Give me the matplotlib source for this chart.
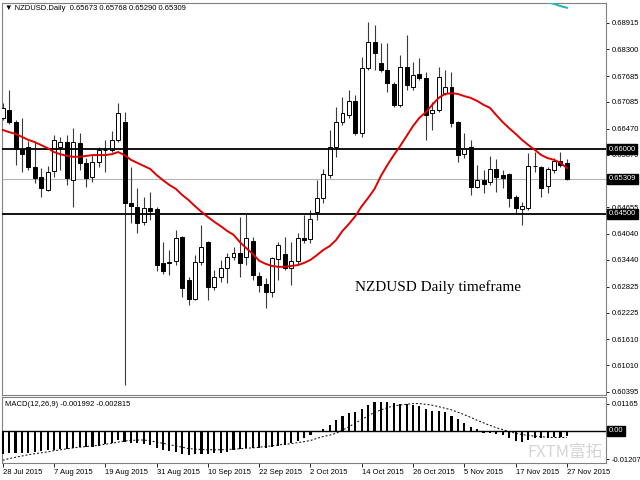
import matplotlib
matplotlib.use('Agg')
import matplotlib.pyplot as plt
import matplotlib.transforms as mtransforms
import numpy as np

plt.rcParams['font.family'] = ['Liberation Sans', 'DejaVu Sans']

# daily NZDUSD bars, 28 Jul 2015 .. 27 Nov 2015
opens = [
    0.6672, 0.6690, 0.6662, 0.6600, 0.6605, 0.6558, 0.6535, 0.6505, 0.6549, 0.6605,
    0.6616, 0.6528, 0.6614, 0.6568, 0.6535, 0.6570, 0.6598, 0.6598, 0.6621, 0.6662,
    0.6475, 0.6466, 0.6432, 0.6464, 0.6462, 0.6337, 0.6339, 0.6342, 0.6397, 0.6298,
    0.6254, 0.6339, 0.6385, 0.6281, 0.6305, 0.6325, 0.6351, 0.6360, 0.6351, 0.6388,
    0.6307, 0.6288, 0.6270, 0.6346, 0.6358, 0.6325, 0.6342, 0.6395, 0.6392, 0.6455,
    0.6487, 0.6540, 0.6605, 0.6662, 0.6678, 0.6711, 0.6637, 0.6787, 0.6847, 0.6798,
    0.6782, 0.6750, 0.6702, 0.6789, 0.6743, 0.6773, 0.6764, 0.6683, 0.6690, 0.6729,
    0.6743, 0.6662, 0.6588, 0.6605, 0.6512, 0.6528, 0.6524, 0.6554, 0.6540, 0.6542,
    0.6489, 0.6462, 0.6464, 0.6561, 0.6558, 0.6515, 0.6552, 0.6572, 0.65673]
highs = [
    0.6706, 0.6736, 0.6667, 0.6672, 0.6618, 0.6616, 0.6556, 0.6561, 0.6632, 0.6628,
    0.6632, 0.6648, 0.6637, 0.6579, 0.6586, 0.6605, 0.6621, 0.6642, 0.6706, 0.6685,
    0.6558, 0.6510, 0.6489, 0.6501, 0.6466, 0.6385, 0.6367, 0.6413, 0.6399, 0.6305,
    0.6355, 0.6425, 0.6388, 0.6321, 0.6344, 0.6360, 0.6374, 0.6443, 0.6452, 0.6397,
    0.6316, 0.6302, 0.6351, 0.6385, 0.6397, 0.6385, 0.6406, 0.6448, 0.6459, 0.6528,
    0.6554, 0.6644, 0.6697, 0.6720, 0.6736, 0.6725, 0.6812, 0.6893, 0.6886, 0.6845,
    0.6845, 0.6755, 0.6817, 0.6863, 0.6801, 0.6810, 0.6778, 0.6708, 0.6789, 0.6782,
    0.6778, 0.6665, 0.6637, 0.6621, 0.6563, 0.6552, 0.6584, 0.6577, 0.6552, 0.6545,
    0.6494, 0.6478, 0.6591, 0.6593, 0.6561, 0.6558, 0.6579, 0.6593, 0.65768]
lows = [
    0.6667, 0.6658, 0.6563, 0.6547, 0.6552, 0.6522, 0.6489, 0.6503, 0.6535, 0.6552,
    0.6517, 0.6466, 0.6552, 0.6512, 0.6524, 0.6558, 0.6547, 0.6593, 0.6616, 0.6055,
    0.6429, 0.6406, 0.6425, 0.6436, 0.6318, 0.6311, 0.6309, 0.6332, 0.6258, 0.6240,
    0.6251, 0.6332, 0.6251, 0.6275, 0.6293, 0.6291, 0.6344, 0.6305, 0.6332, 0.6298,
    0.6270, 0.6233, 0.6258, 0.6298, 0.6321, 0.6286, 0.6332, 0.6383, 0.6383, 0.6436,
    0.6475, 0.6533, 0.6582, 0.6655, 0.6672, 0.6632, 0.6628, 0.6782, 0.6782, 0.6778,
    0.6732, 0.6697, 0.6697, 0.6736, 0.6736, 0.6759, 0.6621, 0.6644, 0.6685, 0.6725,
    0.6651, 0.6570, 0.6579, 0.6494, 0.6510, 0.6498, 0.6517, 0.6501, 0.6510, 0.6466,
    0.6452, 0.6425, 0.6459, 0.6547, 0.6489, 0.6498, 0.6545, 0.6558, 0.65290]
closes = [
    0.6695, 0.6662, 0.6600, 0.6588, 0.6558, 0.6533, 0.6510, 0.6547, 0.6621, 0.6616,
    0.6533, 0.6616, 0.6568, 0.6533, 0.6570, 0.6598, 0.6597, 0.6621, 0.6683, 0.6475,
    0.6468, 0.6429, 0.6464, 0.6457, 0.6332, 0.6318, 0.6337, 0.6395, 0.6279, 0.6254,
    0.6339, 0.6374, 0.6281, 0.6305, 0.6325, 0.6351, 0.6360, 0.6337, 0.6395, 0.6309,
    0.6286, 0.6270, 0.6348, 0.6378, 0.6325, 0.6342, 0.6395, 0.6390, 0.6438, 0.6487,
    0.6542, 0.6605, 0.6662, 0.6683, 0.6711, 0.6637, 0.6787, 0.6847, 0.6822, 0.6782,
    0.6752, 0.6702, 0.6789, 0.6748, 0.6771, 0.6764, 0.6678, 0.6690, 0.6766, 0.6743,
    0.6660, 0.6586, 0.6602, 0.6512, 0.6528, 0.6519, 0.6554, 0.6535, 0.6533, 0.6487,
    0.6464, 0.6468, 0.6561, 0.6560, 0.6510, 0.6554, 0.6572, 0.6563, 0.65309]

# red moving average
ma_red = [
    0.6644, 0.6639, 0.6635, 0.6628, 0.6621, 0.6616, 0.6609, 0.6602, 0.6593, 0.6588,
    0.6584, 0.6582, 0.6582, 0.6584, 0.6586, 0.6586, 0.6586, 0.6588, 0.6593, 0.6586,
    0.6575, 0.6568, 0.6561, 0.6554, 0.6540, 0.6528, 0.6517, 0.6508, 0.6494, 0.6482,
    0.6468, 0.6455, 0.6443, 0.6432, 0.6422, 0.6411, 0.6402, 0.6385, 0.6371, 0.6358,
    0.6342, 0.6335, 0.6330, 0.6328, 0.6328, 0.6330, 0.6332, 0.6337, 0.6344, 0.6355,
    0.6367, 0.6376, 0.6390, 0.6411, 0.6427, 0.6445, 0.6468, 0.6487, 0.6508, 0.6538,
    0.6563, 0.6586, 0.6607, 0.6630, 0.6653, 0.6672, 0.6685, 0.6702, 0.6718, 0.6727,
    0.6729, 0.6727, 0.6722, 0.6718, 0.6711, 0.6702, 0.6695, 0.6678, 0.6662, 0.6648,
    0.6635, 0.6621, 0.6609, 0.6598, 0.6586, 0.6579, 0.6575, 0.6568, 0.6556]

# teal average, only the last few bars reach into view
teal_idx = [84, 85, 86, 87, 88]
teal_ma = [0.6943, 0.6939, 0.6935, 0.6930, 0.6926]

macd_main = [
    -0.0098, -0.0095, -0.0094, -0.0094, -0.0094, -0.0091, -0.0088, -0.0084, -0.0081, -0.0077,
    -0.0077, -0.0074, -0.0071, -0.0071, -0.0070, -0.0066, -0.0058, -0.0050, -0.0040, -0.0048,
    -0.0050, -0.0052, -0.0054, -0.0060, -0.0072, -0.0081, -0.0085, -0.0091, -0.0098, -0.0102,
    -0.0101, -0.0099, -0.0098, -0.0095, -0.0094, -0.0091, -0.0084, -0.0077, -0.0074, -0.0073,
    -0.0073, -0.0073, -0.0070, -0.0063, -0.0060, -0.0052, -0.0042, -0.0030, -0.0018, -0.0002,
    0.0010, 0.0024, 0.0046, 0.0063, 0.0077, 0.0080, 0.0095, 0.0113, 0.0127, 0.0127,
    0.0124, 0.0120, 0.0117, 0.0116, 0.0113, 0.0106, 0.0095, 0.0085, 0.0085, 0.0082,
    0.0066, 0.0052, 0.0035, 0.0018, 0.0007, -0.0007, -0.0010, -0.0014, -0.0018, -0.0032,
    -0.0042, -0.0046, -0.0038, -0.0032, -0.0030, -0.0029, -0.0026, -0.0025, -0.001992]
macd_signal = [
    -0.0126, -0.0119, -0.0113, -0.0108, -0.0102, -0.0098, -0.0094, -0.0090, -0.0085, -0.0081,
    -0.0077, -0.0073, -0.0070, -0.0067, -0.0064, -0.0062, -0.0057, -0.0053, -0.0048, -0.0043,
    -0.0041, -0.0039, -0.0039, -0.0042, -0.0048, -0.0053, -0.0059, -0.0064, -0.0070, -0.0076,
    -0.0078, -0.0080, -0.0081, -0.0081, -0.0081, -0.0080, -0.0078, -0.0077, -0.0074, -0.0073,
    -0.0070, -0.0067, -0.0064, -0.0060, -0.0057, -0.0055, -0.0050, -0.0046, -0.0041, -0.0032,
    -0.0024, -0.0018, -0.0010, 0.0004, 0.0018, 0.0035, 0.0049, 0.0066, 0.0080, 0.0091,
    0.0101, 0.0108, 0.0112, 0.0115, 0.0118, 0.0118, 0.0115, 0.0111, 0.0105, 0.0098,
    0.0091, 0.0081, 0.0070, 0.0059, 0.0046, 0.0035, 0.0024, 0.0014, 0.0006, -0.0003,
    -0.0010, -0.0015, -0.0020, -0.0022, -0.0025, -0.0027, -0.0028, -0.0028, -0.002815]

date_idx = [0, 8, 16, 24, 32, 40, 48, 56, 64, 72, 80, 88]
date_labels = ['28 Jul 2015', '7 Aug 2015', '19 Aug 2015', '31 Aug 2015', '10 Sep 2015',
               '22 Sep 2015', '2 Oct 2015', '14 Oct 2015', '26 Oct 2015', '5 Nov 2015',
               '17 Nov 2015', '27 Nov 2015']
price_ticks = [0.68915, 0.68300, 0.67685, 0.67085, 0.66470, 0.65870, 0.64655,
               0.64040, 0.63440, 0.62825, 0.62225, 0.61610, 0.61010, 0.60395]
levels = [0.66000, 0.64500]

W, H = 640, 480
fig = plt.figure(figsize=(6.4, 4.8), dpi=100)


def box(l, t, r, b):
    return [l / W, 1 - b / H, (r - l) / W, (b - t) / H]


ax = fig.add_axes(box(2, 3, 606, 395))
axm = fig.add_axes(box(2, 397, 606, 463))

x = np.arange(len(closes))
o = np.array(opens)
h = np.array(highs)
l = np.array(lows)
c = np.array(closes)
up = c >= o
bb = np.minimum(o, c)
bh = np.maximum(np.abs(c - o), 0.00005)

# candles
ax.vlines(x, l, h, color='#3a3a3a', lw=0.8, zorder=2)
ax.bar(x[up], bh[up], bottom=bb[up], width=0.62, color='white',
       edgecolor='black', lw=0.7, zorder=3)
ax.bar(x[~up], bh[~up], bottom=bb[~up], width=0.62, color='black',
       edgecolor='black', lw=0.7, zorder=3)

ax.plot(x, ma_red, color='#e00000', lw=1.4, zorder=5)
ax.plot(teal_idx, teal_ma, color='#2ab5b0', lw=1.5, zorder=5)

for v in levels:
    ax.axhline(v, color='black', lw=1.3, zorder=4)
ax.axhline(closes[-1], color='#b5b5b5', lw=0.8, zorder=1)

ax.set_xlim(-0.11, 94.1)
ax.set_ylim(0.60322, 0.69370)
ax.yaxis.tick_right()
ax.set_yticks(price_ticks)
ax.set_yticklabels(['%.5f' % v for v in price_ticks])
ax.tick_params(axis='y', length=2.5, width=0.6, pad=1.5, labelsize=5.5)
ax.tick_params(axis='x', bottom=False, labelbottom=False)

tr = mtransforms.blended_transform_factory(ax.transAxes, ax.transData)
for v in levels + [closes[-1]]:
    ax.text(1.004, v, '%.5f' % v, transform=tr, fontsize=5.5, color='white',
            va='center', ha='left', zorder=10, clip_on=False,
            bbox=dict(boxstyle='square,pad=0.25', fc='black', ec='black'))

ax.text(55, 0.6281, 'NZDUSD Daily timeframe', family='Liberation Serif',
        fontsize=11, va='center', ha='left')

# MACD panel
axm.bar(x, macd_main, width=0.33, color='black', zorder=3)
axm.plot(x, macd_signal, color='black', lw=0.7, ls=(0, (2, 2)), zorder=4)
axm.axhline(0, color='black', lw=1.0, zorder=2)
axm.set_xlim(-0.11, 94.1)
axm.set_ylim(-0.0138, 0.01465)
axm.yaxis.tick_right()
axm.set_yticks([0.01165, 0.0, -0.012077])
axm.set_yticklabels(['0.01165', '', '-0.012077'])
axm.tick_params(axis='y', length=2.5, width=0.6, pad=1.5, labelsize=5.5)
axm.set_xticks(date_idx)
axm.set_xticklabels(date_labels, ha='left')
axm.tick_params(axis='x', length=3, width=0.6, pad=1.5, labelsize=5.5)
trm = mtransforms.blended_transform_factory(axm.transAxes, axm.transData)
axm.text(1.004, 0.0, '0.00', transform=trm, fontsize=5.5, color='white',
         va='center', ha='left', zorder=10, clip_on=False,
         bbox=dict(boxstyle='square,pad=0.25', fc='black', ec='black'))

for a in (ax, axm):
    for s in a.spines.values():
        s.set_color('#808080')
        s.set_linewidth(0.8)

fig.text(5 / W, 1 - 8 / H, '\u25bc NZDUSD.Daily  0.65673 0.65768 0.65290 0.65309',
         fontsize=5.5, va='center')
fig.text(5 / W, 1 - 405 / H, 'MACD(12,26,9) -0.001992 -0.002815',
         fontsize=5.5, va='center')
fig.text(527 / W, 1 - 452 / H, 'FXTM富拓', color='#d5d5d5', fontsize=12,
         family=['Noto Sans CJK SC', 'DejaVu Sans'], va='center')

fig.savefig('out.png', dpi=100)
